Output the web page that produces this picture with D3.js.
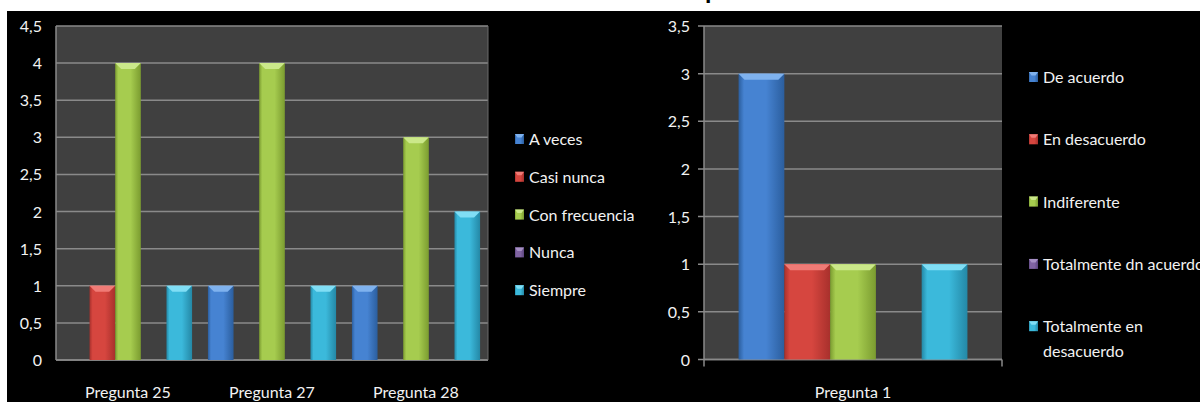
<!DOCTYPE html>
<html>
<head>
<meta charset="utf-8">
<script src="https://cdnjs.cloudflare.com/ajax/libs/d3/7.8.5/d3.min.js"></script>
<style>
  body { margin: 0; background: #fff; }
  text { font-family: Lato, "Open Sans", sans-serif; }
</style>
</head>
<body>
<div id="my_dataviz"></div>
<script>
// ---- data, left chart
var preguntasA = ["Pregunta 25", "Pregunta 27", "Pregunta 28"];
var seriesA = ["A veces", "Casi nunca", "Con frecuencia", "Nunca", "Siempre"];
var aVeces = [0, 1, 1];
var casiNunca = [1, 0, 0];
var conFrecuencia = [4, 4, 3];
var nunca = [0, 0, 0];
var siempre = [1, 1, 2];
var ticksA = [0, 0.5, 1, 1.5, 2, 2.5, 3, 3.5, 4, 4.5];

// ---- data, right chart
var preguntasB = ["Pregunta 1"];
var seriesB = ["De acuerdo", "En desacuerdo", "Indiferente", "Totalmente dn acuerdo", "Totalmente en\ndesacuerdo"];
var deAcuerdo = [3];
var enDesacuerdo = [1];
var indiferente = [1];
var totalAcuerdo = [0];
var totalDesacuerdo = [1];
var ticksB = [0, 0.5, 1, 1.5, 2, 2.5, 3, 3.5];

// colours: [dark edge, face, light top]
var blue = ["#2b5e9e", "#4683d2", "#7fb2ee"];
var red = ["#a8302c", "#d6463f", "#f07b76"];
var green = ["#7b9c30", "#a6cc4f", "#cbe88a"];
var purple = ["#5c4580", "#8064a2", "#a690c4"];
var cyan = ["#2488a6", "#3bb9db", "#80def5"];
var palette = [blue, red, green, purple, cyan];

var W = 1200, H = 402;
var fontSize = "16px";

var svg = d3.select("#my_dataviz")
  .append("svg")
    .attr("width", W)
    .attr("height", H);

// gradients for bars
var defs = svg.append("defs");
palette.forEach(function(c, i) {
  var g = defs.append("linearGradient")
    .attr("id", "grad" + i)
    .attr("x1", "0%").attr("x2", "100%").attr("y1", "0%").attr("y2", "0%");
  g.append("stop").attr("offset", "0%").attr("stop-color", c[0]);
  g.append("stop").attr("offset", "12%").attr("stop-color", c[1]);
  g.append("stop").attr("offset", "60%").attr("stop-color", c[1]);
  g.append("stop").attr("offset", "100%").attr("stop-color", c[0]);
});

// black background, the picture is cut at top / left
svg.append("rect")
  .attr("x", 7).attr("y", 11)
  .attr("width", W - 7).attr("height", H - 11)
  .attr("fill", "#000");

// leftover of the title above the crop
svg.append("text")
  .attr("x", 705).attr("y", -1)
  .attr("font-size", "26px")
  .attr("font-weight", "bold")
  .attr("fill", "#000")
  .text("p");

function drawChart(cfg) {
  var g = svg.append("g")
    .attr("transform", "translate(" + cfg.left + "," + cfg.top + ")");

  var y = d3.scaleLinear()
    .domain([0, cfg.max])
    .range([cfg.height, 0]);

  var x0 = d3.scaleBand()
    .domain(cfg.groups)
    .range([0, cfg.width]);

  var pad = x0.bandwidth() * cfg.pad;
  var x1 = d3.scaleBand()
    .domain(cfg.series)
    .range([pad, x0.bandwidth() - pad]);

  // plot area
  g.append("rect")
    .attr("width", cfg.width)
    .attr("height", cfg.height)
    .attr("fill", "#404040");

  // gridlines
  g.append("g")
    .selectAll("line")
    .data(cfg.ticks)
    .enter().append("line")
      .attr("x1", cfg.tickMarks ? -6 : 0)
      .attr("x2", cfg.width)
      .attr("y1", function(d) { return y(d); })
      .attr("y2", function(d) { return y(d); })
      .attr("stroke", "#8a8a8a")
      .attr("stroke-width", 1.5);

  // y labels
  g.append("g")
    .selectAll("text")
    .data(cfg.ticks)
    .enter().append("text")
      .attr("x", -14)
      .attr("y", function(d) { return y(d) + 6; })
      .attr("text-anchor", "end")
      .attr("font-size", fontSize)
      .attr("fill", "#f2f2f2")
      .text(function(d) { return String(d).replace(".", ","); });

  // axis lines
  g.append("line")
    .attr("x1", 0).attr("x2", 0)
    .attr("y1", 0).attr("y2", cfg.height + (cfg.tickMarks ? 7 : 0))
    .attr("stroke", "#8a8a8a").attr("stroke-width", 1.5);
  g.append("line")
    .attr("x1", 0).attr("x2", cfg.width)
    .attr("y1", cfg.height).attr("y2", cfg.height)
    .attr("stroke", "#8a8a8a").attr("stroke-width", 1.5);
  if (cfg.tickMarks) {
    g.append("line")
      .attr("x1", cfg.width).attr("x2", cfg.width)
      .attr("y1", cfg.height).attr("y2", cfg.height + 7)
      .attr("stroke", "#8a8a8a").attr("stroke-width", 1.5);
  } else {
    g.append("line")
      .attr("x1", cfg.width).attr("x2", cfg.width)
      .attr("y1", 0).attr("y2", cfg.height)
      .attr("stroke", "#6a6a6a").attr("stroke-width", 1);
  }

  // x labels
  g.append("g")
    .selectAll("text")
    .data(cfg.groups)
    .enter().append("text")
      .attr("x", function(d) { return x0(d) + x0.bandwidth() / 2; })
      .attr("y", cfg.height + 38)
      .attr("text-anchor", "middle")
      .attr("font-size", fontSize)
      .attr("fill", "#f2f2f2")
      .text(function(d) { return d; });

  // bars, one record per group/serie, zero values are not shown
  var bars = [];
  cfg.groups.forEach(function(grp, gi) {
    cfg.series.forEach(function(s, si) {
      var v = cfg.values[si][gi];
      if (v > 0) bars.push({group: grp, serie: s, idx: si, value: v});
    });
  });

  var bevel = 6;
  var barG = g.append("g")
    .selectAll("g")
    .data(bars)
    .enter().append("g");

  barG.append("rect")
    .attr("x", function(d) { return x0(d.group) + x1(d.serie); })
    .attr("y", function(d) { return y(d.value); })
    .attr("width", x1.bandwidth())
    .attr("height", function(d) { return y(0) - y(d.value); })
    .attr("fill", function(d) { return "url(#grad" + d.idx + ")"; });

  // light top bevel
  barG.append("path")
    .attr("d", function(d) {
      var bx = x0(d.group) + x1(d.serie), by = y(d.value), bw = x1.bandwidth();
      return "M" + bx + "," + by + "L" + (bx + bw) + "," + by +
             "L" + (bx + bw - bevel) + "," + (by + bevel) +
             "L" + (bx + bevel) + "," + (by + bevel) + "Z";
    })
    .attr("fill", function(d) { return palette[d.idx][2]; });

  // legend
  var legend = svg.append("g")
    .selectAll("g")
    .data(cfg.series)
    .enter().append("g")
      .attr("transform", function(d, i) {
        return "translate(" + cfg.legX + "," + (cfg.legY + i * cfg.legStep) + ")";
      });

  legend.append("rect")
    .attr("x", 0).attr("y", -5)
    .attr("width", 9).attr("height", 10)
    .attr("fill", function(d, i) { return "url(#grad" + i + ")"; });
  legend.append("path")
    .attr("d", "M0,-5L9,-5L6.5,-1.5L2.5,-1.5Z")
    .attr("fill", function(d, i) { return palette[i][2]; });

  legend.append("text")
    .attr("x", 14)
    .attr("y", 6)
    .attr("font-size", fontSize)
    .attr("fill", "#f2f2f2")
    .selectAll("tspan")
    .data(function(d) { return d.split("\n"); })
    .enter().append("tspan")
      .attr("x", 14)
      .attr("dy", function(d, i) { return i === 0 ? 0 : 25; })
      .text(function(d) { return d; });
}

drawChart({
  left: 56, top: 26, width: 432, height: 334,
  max: 4.5, ticks: ticksA, pad: 0.055,
  groups: preguntasA, series: seriesA,
  values: [aVeces, casiNunca, conFrecuencia, nunca, siempre],
  tickMarks: false,
  legX: 515, legY: 139, legStep: 37.8
});

drawChart({
  left: 704, top: 26, width: 298, height: 333.5,
  max: 3.5, ticks: ticksB, pad: 0.116,
  groups: preguntasB, series: seriesB,
  values: [deAcuerdo, enDesacuerdo, indiferente, totalAcuerdo, totalDesacuerdo],
  tickMarks: true,
  legX: 1029, legY: 77, legStep: 62.3
});
</script>
</body>
</html>
